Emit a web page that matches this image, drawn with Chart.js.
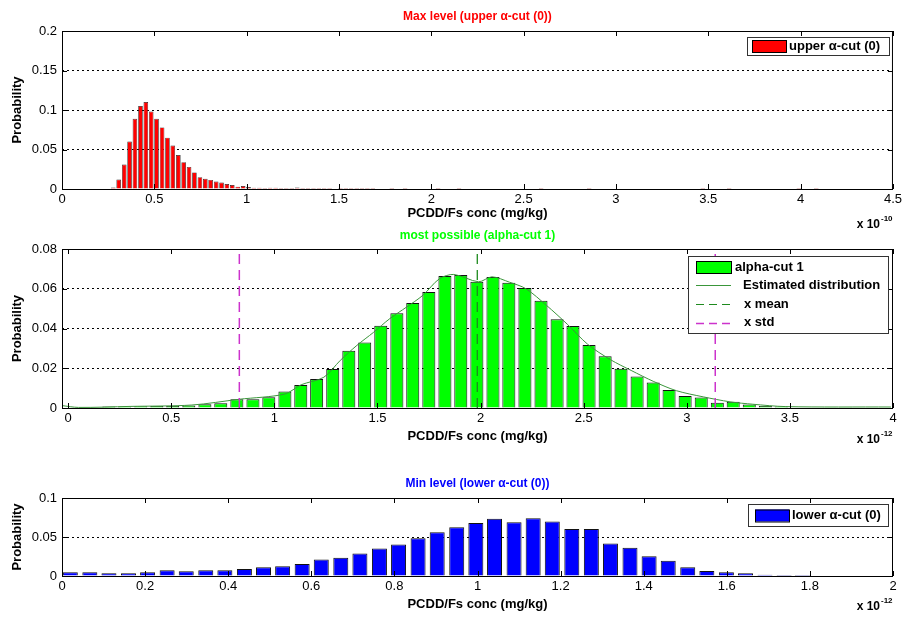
<!DOCTYPE html>
<html>
<head>
<meta charset="utf-8">
<script src="https://cdn.jsdelivr.net/npm/chart.js@4.4.1/dist/chart.umd.min.js"></script>
<style>
  html, body { margin: 0; padding: 0; background: #fff; }
  #wrap { position: relative; width: 905px; height: 617px; overflow: hidden; }
  canvas { position: absolute; left: 0; }
</style>
</head>
<body>
<div id="wrap">
  <canvas id="c1" width="905" height="235" style="top:0px"></canvas>
  <canvas id="c2" width="905" height="222" style="top:225px"></canvas>
  <canvas id="c3" width="905" height="147" style="top:470px"></canvas>
</div>
<script>
// Max level (upper alpha-cut 0), x in units of 1e-10
const upperX = [0.278, 0.307, 0.337, 0.366, 0.395, 0.425, 0.454, 0.483, 0.512, 0.542,
  0.571, 0.600, 0.630, 0.659, 0.688, 0.717, 0.747, 0.776, 0.805, 0.835,
  0.864, 0.893, 0.922, 0.952, 0.981, 1.010, 1.039, 1.069, 1.098, 1.127,
  1.157, 1.186, 1.215, 1.244, 1.274, 1.303, 1.332, 1.362, 1.391, 1.420,
  1.449, 1.508, 1.537, 1.566, 1.596, 1.625, 1.654, 1.683,
  1.786, 1.858, 2.037, 2.150, 2.595, 2.855, 3.470, 3.613, 3.990, 4.085];
const upperP = [0.002, 0.012, 0.031, 0.060, 0.089, 0.105, 0.110, 0.098, 0.089, 0.078,
  0.065, 0.055, 0.043, 0.034, 0.028, 0.021, 0.015, 0.013, 0.0115, 0.0094,
  0.0081, 0.0064, 0.0051, 0.003, 0.0038, 0.0026, 0.0017, 0.0017, 0.0012, 0.0017,
  0.0017, 0.0012, 0.0012, 0.0012, 0.002, 0.0012, 0.0012, 0.0012, 0.0012, 0.0012,
  0.0012, 0.0012, 0.0012, 0.0012, 0.0012, 0.0012, 0.0012, 0.0012,
  0.0012, 0.0012, 0.0012, 0.0012, 0.0012, 0.0012, 0.0012, 0.0012, 0.0012, 0.0012];
const upperTicksX = [0, 0.5, 1, 1.5, 2, 2.5, 3, 3.5, 4, 4.5];
const upperTicksY = [0, 0.05, 0.1, 0.15, 0.2];

// most possible (alpha-cut 1), x in units of 1e-12
const mostX = [0.041, 0.119, 0.197, 0.274, 0.352, 0.430, 0.507, 0.585, 0.663, 0.740,
  0.818, 0.896, 0.973, 1.051, 1.128, 1.205, 1.283, 1.361, 1.438, 1.516,
  1.594, 1.671, 1.749, 1.827, 1.904, 1.982, 2.060, 2.137, 2.215, 2.293,
  2.371, 2.448, 2.526, 2.604, 2.681, 2.759, 2.837, 2.914, 2.992, 3.070,
  3.148, 3.225, 3.303, 3.381, 3.458, 3.536, 3.614, 3.691, 3.769];
const mostP = [0.0003, 0.0002, 0.0007, 0.0007, 0.0009, 0.0010, 0.0010, 0.0012, 0.0019, 0.0024,
  0.0044, 0.0044, 0.0054, 0.0083, 0.0116, 0.0146, 0.0196, 0.0288, 0.0329, 0.0414,
  0.0477, 0.0528, 0.0584, 0.0664, 0.0669, 0.0635, 0.0659, 0.0630, 0.0604, 0.0540,
  0.0446, 0.0412, 0.0317, 0.0260, 0.0197, 0.0158, 0.0128, 0.0090, 0.0061, 0.0053,
  0.0026, 0.0031, 0.0017, 0.0010, 0.0007, 0.0003, 0.0002, 0.0001, 0.0001];
const estX = [-0.03, 0.05, 0.3, 0.6, 0.83, 1.05, 1.13, 1.24, 1.32, 1.40,
  1.48, 1.56, 1.64, 1.72, 1.80, 1.87, 1.99, 2.055, 2.14, 2.22,
  2.32, 2.42, 2.52, 2.63, 2.73, 2.84, 2.95, 3.08, 3.21, 3.32,
  3.48, 3.99];
const estP = [0.0012, 0.0003, 0.0008, 0.0015, 0.0044, 0.0070, 0.0117, 0.0155, 0.0240, 0.0315,
  0.0380, 0.0450, 0.0507, 0.0567, 0.0650, 0.0672, 0.0635, 0.0660, 0.0633, 0.0600,
  0.0516, 0.0422, 0.0320, 0.0243, 0.0189, 0.0133, 0.0087, 0.0056, 0.0031, 0.0019,
  0.0007, 0.0005];
const meanX = 1.984;
const stdX = [0.830, 3.138];
const mostTicksX = [0, 0.5, 1, 1.5, 2, 2.5, 3, 3.5, 4];
const mostTicksY = [0, 0.02, 0.04, 0.06, 0.08];

// Min level (lower alpha-cut 0), x in units of 1e-12
const lowerX = [0.020, 0.067, 0.113, 0.160, 0.206, 0.253, 0.299, 0.346, 0.392, 0.439,
  0.485, 0.531, 0.578, 0.624, 0.671, 0.717, 0.764, 0.810, 0.857, 0.903,
  0.950, 0.996, 1.041, 1.088, 1.134, 1.180, 1.227, 1.274, 1.320, 1.367,
  1.413, 1.459, 1.506, 1.552, 1.599, 1.645, 1.692, 1.738, 1.782];
const lowerP = [0.0047, 0.0047, 0.0034, 0.0034, 0.0047, 0.0073, 0.0060, 0.0073, 0.0073, 0.0090,
  0.0112, 0.0125, 0.0155, 0.0211, 0.0233, 0.0289, 0.0353, 0.0405, 0.0483, 0.0560,
  0.0625, 0.0681, 0.0733, 0.0690, 0.0741, 0.0698, 0.0603, 0.0603, 0.0418, 0.0362,
  0.0254, 0.0194, 0.0112, 0.0065, 0.0047, 0.0034, 0.0017, 0.0013, 0.0013];
const lowerTicksX = [0, 0.2, 0.4, 0.6, 0.8, 1, 1.2, 1.4, 1.6, 1.8, 2];
const lowerTicksY = [0, 0.05, 0.1];

const FONT = "'Liberation Sans', Arial, sans-serif";
Chart.defaults.font.family = FONT;
Chart.defaults.font.size = 13;
Chart.defaults.color = "#000";

const pts = (xs, ys) => xs.map((x, i) => ({ x, y: ys[i] }));

// MATLAB-like decorations: box, inward ticks, titles, legend
const decor = {
  id: "decor",
  afterDraw(chart, args, o) {
    const { ctx, chartArea: a, scales: { x, y } } = chart;
    const off = chart.canvas.offsetTop;
    ctx.save();
    ctx.strokeStyle = "#000";
    ctx.lineWidth = 1;
    ctx.beginPath();
    x.ticks.forEach(t => {
      const px = Math.round(x.getPixelForValue(t.value)) + 0.5;
      ctx.moveTo(px, a.bottom); ctx.lineTo(px, a.bottom - 5);
      ctx.moveTo(px, a.top); ctx.lineTo(px, a.top + 5);
    });
    y.ticks.forEach(t => {
      const py = Math.round(y.getPixelForValue(t.value)) + 0.5;
      ctx.moveTo(a.left, py); ctx.lineTo(a.left + 5, py);
      ctx.moveTo(a.right, py); ctx.lineTo(a.right - 5, py);
    });
    ctx.stroke();
    ctx.strokeRect(a.left + 0.5, a.top + 0.5, a.right - a.left - 1, a.bottom - a.top);

    const cx = (a.left + a.right) / 2;
    ctx.textAlign = "center";
    ctx.textBaseline = "middle";
    ctx.font = "bold 12px " + FONT;
    ctx.fillStyle = o.titleColor;
    ctx.fillText(o.title, cx, a.top - o.titleGap);
    ctx.fillStyle = "#000";
    ctx.font = "bold 13px " + FONT;
    ctx.fillText("PCDD/Fs conc (mg/kg)", cx, a.bottom + o.xlabelGap);
    ctx.save();
    ctx.translate(17, (a.top + a.bottom) / 2);
    ctx.rotate(-Math.PI / 2);
    ctx.fillText("Probability", 0, 0);
    ctx.restore();

    ctx.font = "bold 12px " + FONT;
    ctx.textAlign = "right";
    ctx.fillText("x 10", 880, a.bottom + o.expGap);
    ctx.textAlign = "left";
    ctx.font = "bold 8px " + FONT;
    ctx.fillText(o.exp, 881, a.bottom + o.expGap - 6);

    // legend
    const L = o.legend;
    const top = L.box[1] - off;
    ctx.fillStyle = "#fff";
    ctx.fillRect(L.box[0], top, L.box[2] - L.box[0], L.box[3] - L.box[1]);
    ctx.strokeStyle = "#333";
    ctx.strokeRect(L.box[0] + 0.5, top + 0.5, L.box[2] - L.box[0], L.box[3] - L.box[1]);
    ctx.font = "bold 13px " + FONT;
    ctx.textBaseline = "middle";
    L.items.forEach(it => {
      const yy = it.y - off;
      if (it.patch) {
        ctx.fillStyle = it.color;
        ctx.fillRect(L.sample[0], yy - 6, L.sample[1] - L.sample[0], 12);
        ctx.strokeStyle = "#000";
        ctx.strokeRect(L.sample[0] + 0.5, yy - 5.5, L.sample[1] - L.sample[0], 12);
      } else {
        ctx.strokeStyle = it.color;
        ctx.lineWidth = it.width || 1;
        ctx.setLineDash(it.dash || []);
        ctx.beginPath();
        ctx.moveTo(L.sample[0], Math.round(yy) + 0.5);
        ctx.lineTo(L.sample[1], Math.round(yy) + 0.5);
        ctx.stroke();
        ctx.setLineDash([]);
        ctx.lineWidth = 1;
      }
      ctx.fillStyle = "#000";
      ctx.fillText(it.text, it.tx, yy);
    });
    ctx.restore();
  }
};

function histChart(id, opt) {
  return new Chart(document.getElementById(id), {
    type: "bar",
    data: { datasets: opt.datasets },
    options: {
      responsive: false,
      animation: false,
      layout: { padding: { top: opt.top, right: 12, bottom: opt.bottom, left: 0 } },
      plugins: {
        legend: { display: false },
        tooltip: { enabled: false },
        decor: opt.decor
      },
      scales: {
        x: {
          type: "linear",
          min: opt.xMin,
          max: opt.xMax,
          offset: false,
          grid: { display: false, drawTicks: false },
          border: { display: false },
          afterFit: s => { s.height = 30; },
          afterBuildTicks: s => { s.ticks = opt.xTicks.map(v => ({ value: v })); },
          ticks: { autoSkip: false, maxRotation: 0, padding: 3, callback: v => String(v) }
        },
        y: {
          min: 0,
          max: opt.yMax,
          grid: { color: "#000", lineWidth: 1, drawTicks: false },
          border: { display: false, dash: [2, 3] },
          afterFit: s => { s.width = 62; },
          afterBuildTicks: s => { s.ticks = opt.yTicks.map(v => ({ value: v })); },
          ticks: { padding: 5, callback: v => String(v) }
        }
      }
    },
    plugins: [decor]
  });
}

const barStyle = { borderColor: "#111", borderWidth: 1, barPercentage: 0.82, categoryPercentage: 1, order: 2 };

histChart("c1", {
  top: 31, bottom: 16, xMin: 0, xMax: 4.5, yMax: 0.2,
  xTicks: upperTicksX, yTicks: upperTicksY,
  datasets: [{ ...barStyle, barPercentage: 0.86, borderWidth: 0.7, borderColor: "#222", label: "upper α-cut (0)", data: pts(upperX, upperP), backgroundColor: "#ff0000" }],
  decor: {
    title: "Max level (upper α-cut (0))", titleColor: "#ff0000", titleGap: 14,
    xlabelGap: 24, expGap: 36, exp: "-10",
    legend: {
      box: [747, 37, 889, 55], sample: [752, 786],
      items: [{ patch: true, color: "#ff0000", text: "upper α-cut (0)", tx: 789, y: 46 }]
    }
  }
});

histChart("c2", {
  top: 24, bottom: 9, xMin: -0.03, xMax: 4, yMax: 0.08,
  xTicks: mostTicksX, yTicks: mostTicksY,
  datasets: [
    { type: "line", label: "Estimated distribution", data: pts(estX, estP), borderColor: "#3a963a", borderWidth: 1, pointRadius: 0, tension: 0.3, order: 1 },
    { type: "line", label: "x mean", data: [{ x: meanX, y: 0 }, { x: meanX, y: 0.08 }], borderColor: "#1e8a1e", borderWidth: 1.3, borderDash: [10, 6], pointRadius: 0, order: 0 },
    { type: "line", label: "x std", data: [{ x: stdX[0], y: 0 }, { x: stdX[0], y: 0.08 }], borderColor: "#cc33cc", borderWidth: 1.5, borderDash: [10, 6], pointRadius: 0, order: 0 },
    { type: "line", label: "x std", data: [{ x: stdX[1], y: 0 }, { x: stdX[1], y: 0.08 }], borderColor: "#cc33cc", borderWidth: 1.5, borderDash: [10, 6], pointRadius: 0, order: 0 },
    { ...barStyle, label: "alpha-cut 1", data: pts(mostX, mostP), backgroundColor: "#00ff00" }
  ],
  decor: {
    title: "most possible (alpha-cut 1)", titleColor: "#00ff00", titleGap: 13,
    xlabelGap: 28, expGap: 32, exp: "-12",
    legend: {
      box: [688, 256, 888, 333], sample: [696, 731],
      items: [
        { patch: true, color: "#00ff00", text: "alpha-cut 1", tx: 735, y: 267 },
        { color: "#3a963a", text: "Estimated distribution", tx: 743, y: 285 },
        { color: "#1e8a1e", dash: [8, 5], text: "x mean", tx: 744, y: 304 },
        { color: "#cc33cc", dash: [8, 5], width: 1.3, text: "x std", tx: 744, y: 322.5 }
      ]
    }
  }
});

histChart("c3", {
  top: 28, bottom: 11, xMin: 0, xMax: 2, yMax: 0.1,
  xTicks: lowerTicksX, yTicks: lowerTicksY,
  datasets: [{ ...barStyle, label: "lower α-cut (0)", data: pts(lowerX, lowerP), backgroundColor: "#0000ff" }],
  decor: {
    title: "Min level (lower α-cut (0))", titleColor: "#0000ff", titleGap: 14,
    xlabelGap: 28, expGap: 31, exp: "-12",
    legend: {
      box: [748, 504, 888, 526], sample: [755, 789],
      items: [{ patch: true, color: "#0000ff", text: "lower α-cut (0)", tx: 792, y: 515.5 }]
    }
  }
});
</script>
</body>
</html>
